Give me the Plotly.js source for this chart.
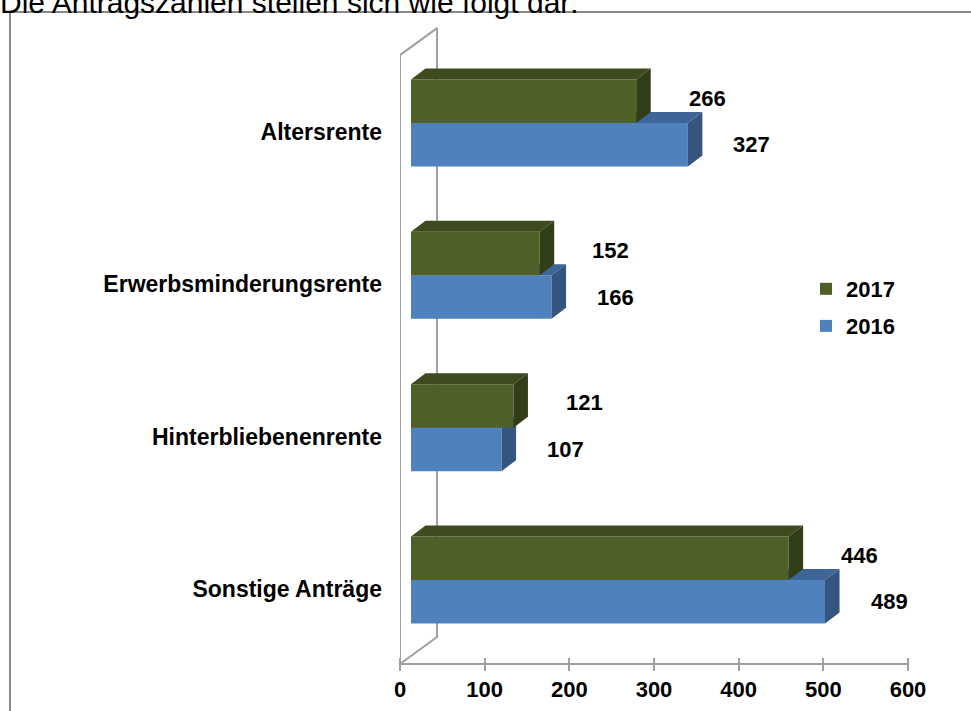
<!DOCTYPE html>
<html>
<head>
<meta charset="utf-8">
<script src="https://cdn.plot.ly/plotly-3.0.1.min.js"></script>
<style>html,body{margin:0;padding:0;background:#fff;}#chart{width:971px;height:711px;}</style>
</head>
<body>
<div id="chart"></div>
<script>
// ---- data ----
const categories = ["Altersrente", "Erwerbsminderungsrente", "Hinterbliebenenrente", "Sonstige Anträge"];
const values2017 = [266, 152, 121, 446];
const values2016 = [327, 166, 107, 489];
const seriesNames = ["2017", "2016"];
const xTickVals = [0, 100, 200, 300, 400, 500, 600];

// ---- geometry / style ----
const W = 971, H = 711;
const FONT = "Liberation Sans, Arial, sans-serif";
const xMax = 600;
const plotLeftPx = 400, plotRightPx = 908;
const yRange = [3.860, -0.8075];            // bottom, top (reversed)
const pxPerX = (plotRightPx - plotLeftPx) / xMax;
const pxPerY = H / (yRange[0] - yRange[1]);
const px2x = p => p / pxPerX;
const px2y = p => p / pxPerY;

const barFrontShift = px2x(11);   // 3D bar offset from wall
const barDX = px2x(14.5), barDY = px2y(11);
const wallDX = px2x(37), wallDY = px2y(27);
const wallTop = -0.446, floorY = 3.5515;
const barW = 0.2856;
const tickUpPx = 7;

const colors = {
  g: {front: "#4E6028", top: "#3D4B1E", side: "#323E18"},
  b: {front: "#4F81BD", top: "#3D6597", side: "#34557F"}
};

const idx = categories.map((c, i) => i);

function faces(vals, topOf) {
  const top = {x: [], y: []}, side = {x: [], y: []};
  vals.forEach((v, i) => {
    const yt = topOf(i), yb = yt + barW;
    top.x.push(0, v, v + barDX, barDX, null);
    top.y.push(yt, yt, yt - barDY, yt - barDY, null);
    side.x.push(v, v + barDX, v + barDX, v, null);
    side.y.push(yt, yt - barDY, yb - barDY, yb, null);
  });
  return {top, side};
}

const gFaces = faces(values2017, i => i - barW);
const bFaces = faces(values2016, i => i);

function faceTrace(f, color, xa) {
  return {type: "scatter", mode: "lines", x: f.x, y: f.y, xaxis: xa, yaxis: "y",
    fill: "toself", fillcolor: color, line: {width: 0, color: color},
    showlegend: false, hoverinfo: "skip"};
}

// wall + floor front edge
const wall = {
  type: "scatter", mode: "lines", xaxis: "x", yaxis: "y",
  x: [xMax, 0, 0, wallDX, wallDX, 0],
  y: [floorY, floorY, wallTop, wallTop - wallDY, floorY - wallDY, floorY],
  line: {color: "#a0a0a0", width: 2}, showlegend: false, hoverinfo: "skip"
};

const blueBar = {
  type: "bar", orientation: "h", name: seriesNames[1], x: values2016, y: idx,
  width: barW, offset: 0, xaxis: "x2", yaxis: "y",
  marker: {color: colors.b.front, line: {width: 0}},
  legendgroup: "b", legendrank: 2, hoverinfo: "skip"
};
const greenBar = {
  type: "bar", orientation: "h", name: seriesNames[0], x: values2017, y: idx,
  width: barW, offset: -barW, xaxis: "x3", yaxis: "y",
  marker: {color: colors.g.front, line: {width: 0}},
  legendgroup: "g", legendrank: 1, hoverinfo: "skip"
};

const traces = [
  wall,
  blueBar, faceTrace(bFaces.top, colors.b.top, "x2"), faceTrace(bFaces.side, colors.b.side, "x2"),
  greenBar, faceTrace(gFaces.top, colors.g.top, "x3"), faceTrace(gFaces.side, colors.g.side, "x3")
];

const labelFont = {family: FONT, size: 22, color: "#000", weight: "bold"};
const catFont = {family: FONT, size: 23, color: "#000", weight: "bold"};
const annotations = [];
values2017.forEach((v, i) => annotations.push({
  xref: "x3", yref: "y", x: v, y: i - barW / 2, text: String(v), showarrow: false,
  xanchor: "center", yanchor: "middle", xshift: 71, yshift: 3, font: labelFont
}));
values2016.forEach((v, i) => annotations.push({
  xref: "x2", yref: "y", x: v, y: i + barW / 2, text: String(v), showarrow: false,
  xanchor: "center", yanchor: "middle", xshift: 64, font: labelFont
}));
annotations.push({
  xref: "paper", yref: "paper", x: 0, y: 1 - 20.5 / H, xanchor: "left", yanchor: "bottom",
  xshift: -2, text: "Die Antragszahlen stellen sich wie folgt dar:", showarrow: false,
  font: {family: FONT, size: 30, color: "#000"}
});

const floorPx = (floorY - yRange[1]) * pxPerY;
const xAxisPos = (H - (floorPx - tickUpPx)) / H;
const shifted = [-barFrontShift, xMax - barFrontShift];

const layout = {
  width: W, height: H,
  margin: {l: 0, r: 0, t: 0, b: 0},
  paper_bgcolor: "#fff", plot_bgcolor: "rgba(0,0,0,0)",
  hovermode: false, showlegend: true, barmode: "overlay",
  xaxis: {domain: [plotLeftPx / W, plotRightPx / W], range: [0, xMax], anchor: "free", position: xAxisPos,
    tickvals: xTickVals, ticks: "outside", ticklen: 13, tickwidth: 2, tickcolor: "#a0a0a0",
    showline: false, showgrid: false, zeroline: false, tickfont: labelFont, fixedrange: true},
  xaxis2: {overlaying: "x", range: shifted, visible: false, fixedrange: true},
  xaxis3: {overlaying: "x", range: shifted, visible: false, fixedrange: true},
  yaxis: {domain: [0, 1], range: yRange, anchor: "free", position: plotLeftPx / W,
    tickvals: idx.map(i => i + px2y(9)), ticktext: categories, ticks: "", ticklabelstandoff: 18,
    showline: false, showgrid: false, zeroline: false, tickfont: catFont, fixedrange: true},
  legend: {x: 806 / W, y: 1 - 268 / H, xanchor: "left", yanchor: "top", bgcolor: "rgba(0,0,0,0)",
    font: labelFont, traceorder: "grouped", tracegroupgap: 5.5},
  annotations: annotations,
  shapes: [{type: "rect", xref: "paper", yref: "paper", x0: 10 / W, x1: 1.05, y0: -0.05, y1: 1 - 12 / H,
    line: {color: "#8a8a8a", width: 2}, layer: "below"}]
};

Plotly.newPlot("chart", traces, layout, {displayModeBar: false, staticPlot: true});
</script>
</body>
</html>
